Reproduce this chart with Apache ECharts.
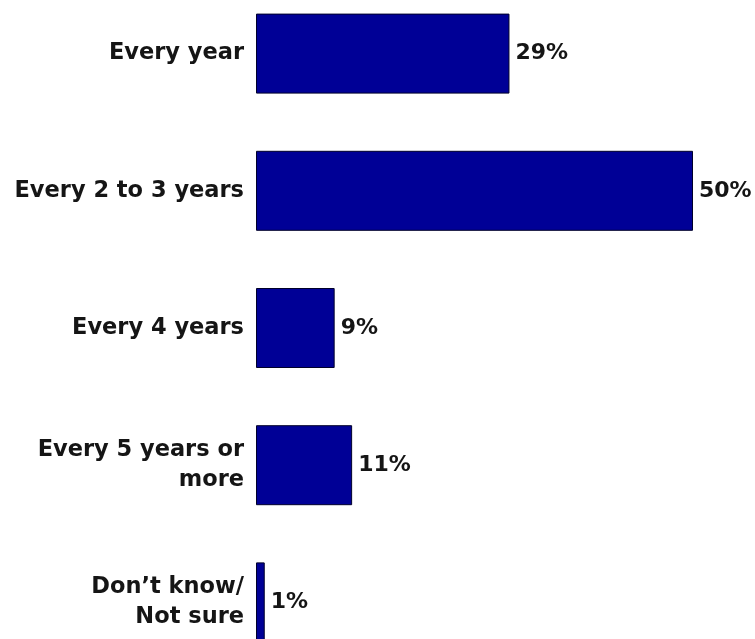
<!DOCTYPE html>
<html lang="en">
<head>
    <meta charset="UTF-8">
    <title>How often</title>
    <script src="https://cdn.jsdelivr.net/npm/echarts@6/dist/echarts.min.js"></script>
    <style>
        html, body { margin: 0; padding: 0; background: #fff; }
        #chart { width: 755px; height: 639px; }
    </style>
</head>
<body>
    <div id="chart"></div>
    <script>
    // data
    var categories = ['Every year', 'Every 2 to 3 years', 'Every 4 years', 'Every 5 years or\nmore', 'Don\u2019t know/\nNot sure'];
    var values = [29, 50, 9, 11, 1];

    var chart = echarts.init(document.getElementById('chart'));

    var option = {
        animation: false,
        grid: {
            left: 256,
            width: 437,
            top: -15,
            height: 686,
            outerBoundsMode: 'none'
        },
        xAxis: {
            type: 'value',
            min: 0,
            max: 50,
            show: false
        },
        yAxis: {
            type: 'category',
            data: categories,
            inverse: true,
            axisLine: { show: false },
            axisTick: { show: false },
            axisLabel: {
                margin: 12,
                color: '#151515',
                fontFamily: 'DejaVu Sans',
                fontWeight: 'bold',
                fontSize: 22.5,
                lineHeight: 30,
                align: 'right'
            }
        },
        series: [
            {
                type: 'bar',
                data: values,
                barWidth: 80,
                itemStyle: {
                    color: '#000096',
                    borderColor: '#00002a',
                    borderWidth: 1
                },
                label: {
                    show: true,
                    position: 'right',
                    distance: 6,
                    formatter: '{c}%',
                    color: '#151515',
                    fontFamily: 'DejaVu Sans',
                    fontWeight: 'bold',
                    fontSize: 22
                }
            }
        ]
    };

    chart.setOption(option);
    </script>
</body>
</html>
